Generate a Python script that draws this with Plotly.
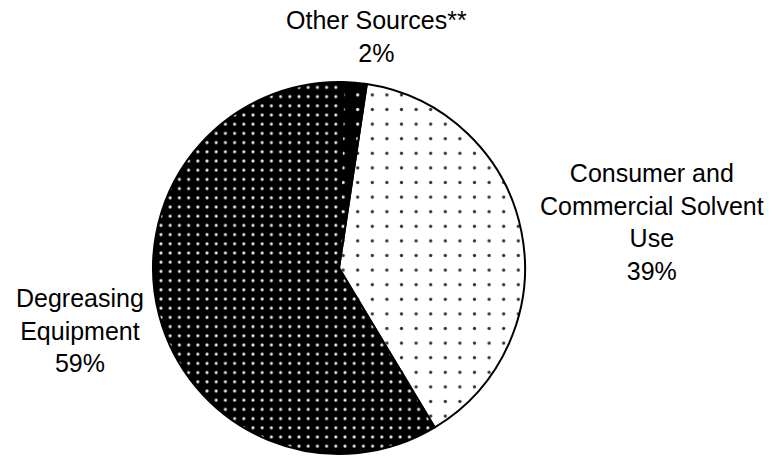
import plotly.graph_objects as go

labels = ["Consumer and<br>Commercial Solvent<br>Use", "Degreasing<br>Equipment", "Other Sources**"]
values = [39, 59, 2]
pct_text = ["39%", "59%", "2%"]

W, H = 774, 456

fig = go.Figure(go.Pie(
    labels=labels,
    values=values,
    sort=False,
    direction="clockwise",
    rotation=8.6,
    textinfo="none",
    hoverinfo="label+percent",
    showlegend=False,
    domain=dict(x=[153 / W, 525 / W], y=[(H - 454) / H, (H - 82) / H]),
    marker=dict(
        colors=["white", "black", "black"],
        line=dict(color="black", width=2),
        pattern=dict(
            shape=[".", ".", "."],
            bgcolor=["white", "black", "black"],
            fgcolor=["#333333", "#e8e8e8", "#e8e8e8"],
            size=[14.6, 9.2, 14.6],
            solidity=[0.04, 0.09, 0.04],
            fillmode="replace",
        ),
    ),
))

font = dict(family="Liberation Sans, Arial, sans-serif", size=25, color="black")
label_pos = [(652, 222), (80, 330), (376, 37)]
for lab, pct, (x, y) in zip(labels, pct_text, label_pos):
    fig.add_annotation(
        x=x / W, y=1 - y / H, xref="paper", yref="paper",
        text=f"{lab}<br>{pct}", showarrow=False,
        xanchor="center", yanchor="middle", align="center", font=font,
    )

fig.update_layout(
    width=W, height=H,
    margin=dict(l=0, r=0, t=0, b=0),
    paper_bgcolor="white", plot_bgcolor="white",
)

fig.write_html(
    "out.html",
    config={"displayModeBar": False},
    post_script="document.body.style.margin='0';document.body.style.padding='0';document.body.style.overflow='hidden';",
)
